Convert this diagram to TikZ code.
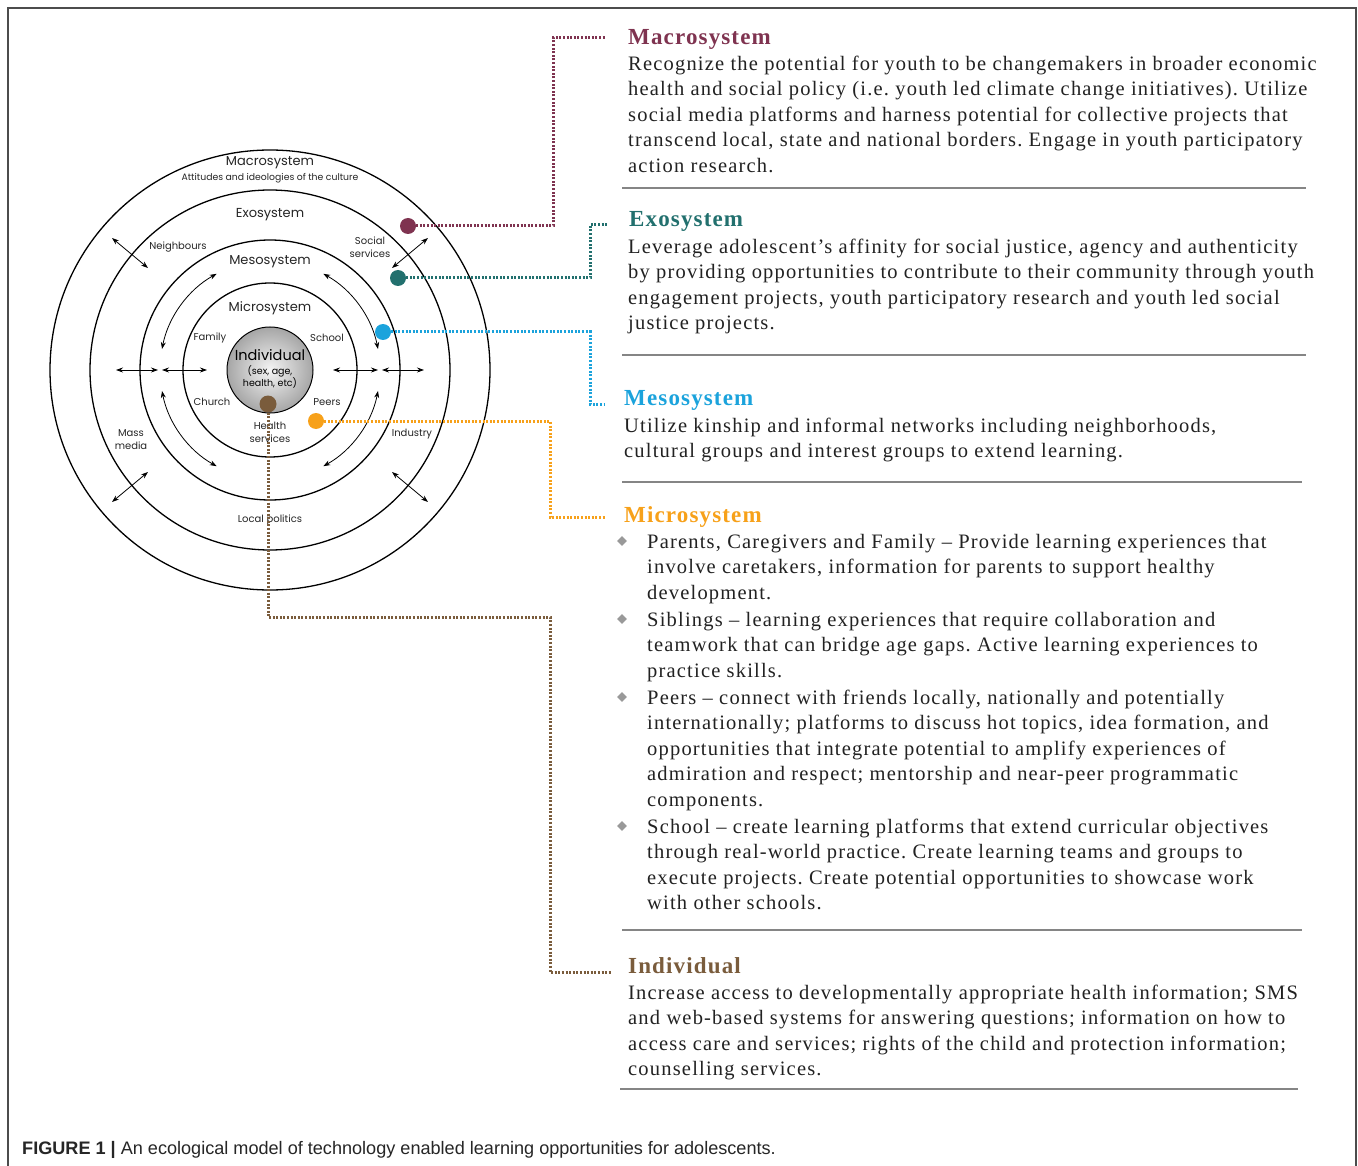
\documentclass[tikz,border=0pt]{standalone}
\usepackage{fontspec}
\setmainfont{Liberation Serif}
\newfontfamily\diagfont{Poppins}
\newfontfamily\capfont{Liberation Sans}
\newfontfamily\titlefont[LetterSpace=5]{Liberation Serif}
\newfontfamily\bodyfont[LetterSpace=5.8]{Liberation Serif}
\usetikzlibrary{arrows.meta,shapes.geometric}
\definecolor{cmacro}{HTML}{7F3350}
\definecolor{cexo}{HTML}{22706E}
\definecolor{cmeso}{HTML}{1BA3DC}
\definecolor{cmicro}{HTML}{F7A11A}
\definecolor{cind}{HTML}{7A5C3C}
\definecolor{rulegray}{HTML}{858585}
\definecolor{txt}{HTML}{222222}
\tikzset{
  ring/.style={draw=black, line width=1.3pt},
  dbl/.style={black, line width=0.8pt, {Stealth[length=7pt,width=5pt]}-{Stealth[length=7pt,width=5pt]}},
  lab/.style={font=\diagfont\fontsize{10}{11}\selectfont, inner sep=0pt, align=center, text=black!85},
  sysname/.style={font=\diagfont\fontsize{13}{14}\selectfont, inner sep=0pt, text=black!85},
  dot/.style={circle, inner sep=0pt, minimum size=16pt, fill=#1},
  conn/.style={line width=3pt, dash pattern=on 2pt off 1.6pt, draw=#1},
  ttl/.style={font=\titlefont\bfseries\fontsize{23}{26}\selectfont, text=#1, inner sep=0pt, anchor=base west},
  body/.style={font=\bodyfont\fontsize{20.5}{25.5}\selectfont\frenchspacing, text=txt, inner sep=0pt, anchor=north west, align=left},
  hrule/.style={draw=rulegray, line width=2.4pt},
  bullet/.style={diamond, fill=gray!80, inner sep=0pt, minimum size=10pt},
}
\newcommand{\st}{\rule{0pt}{15pt}}
\begin{document}
\begin{tikzpicture}[x=1pt,y=-1pt]
\useasboundingbox (0,0) rectangle (1358,1166);
\fill[white] (0,0) rectangle (1358,1166);
% frame
\draw[black!70, line width=1.3pt] (8,1166) -- (8,8) -- (1356,8) -- (1356,1166);

% ===== diagram =====
\begin{scope}[shift={(270,370)}, y=1pt]
  \draw[ring] (0,0) circle[radius=220];
  \draw[ring] (0,0) circle[radius=180];
  \draw[ring] (0,0) circle[radius=130];
  \draw[ring] (0,0) circle[radius=87];
  \shade[inner color=gray!8, outer color=gray!70, draw=black, line width=1pt] (0,0) circle[radius=43];
  % horizontal arrows
  \draw[dbl] (-154,0) -- (-112,0);
  \draw[dbl] (-108,0) -- (-63,0);
  \draw[dbl] (63,0) -- (108,0);
  \draw[dbl] (112,0) -- (154,0);
  % curved arrows
  \draw[dbl] (169:110) arc[start angle=169, end angle=119, radius=110];
  \draw[dbl] (61:110) arc[start angle=61, end angle=11, radius=110];
  \draw[dbl] (191:110) arc[start angle=191, end angle=241, radius=110];
  \draw[dbl] (299:110) arc[start angle=299, end angle=349, radius=110];
  % diagonal arrows
  \draw[dbl] (-158,132) -- (-122,102);
  \draw[dbl] (158,132) -- (122,102);
  \draw[dbl] (-158,-132) -- (-122,-102);
  \draw[dbl] (122,-102) -- (158,-132);
  % labels
  \node[sysname] (tmacro) at (0,207) {Macrosystem};
  \node[lab, font=\diagfont\fontsize{9.3}{10}\selectfont] (tatt) at (0,192) {Attitudes and ideologies of the culture};
  \node[sysname] (texo) at (0,155) {Exosystem};
  \node[sysname] (tmeso) at (0,108) {Mesosystem};
  \node[sysname] (tmicro) at (0,62) {Microsystem};
  \node[sysname, font=\diagfont\fontsize{14.5}{15}\selectfont, text=black] (tind) at (0,15) {Individual};
  \node[lab, font=\diagfont\fontsize{9.5}{11}\selectfont, text=black] (tsex) at (0,-7) {(sex, age,\\health, etc)};
  \node[lab] (tfam) at (-60,32) {Family};
  \node[lab] (tsch) at (57,32) {School};
  \node[lab] (tchu) at (-58,-32) {Church};
  \node[lab] (tpeer) at (57,-32) {Peers};
  \node[lab, font=\diagfont\fontsize{10}{13}\selectfont] (thealth) at (0,-62) {Health\\services};
  \node[lab] (tneigh) at (-92,123) {Neighbours};
  \node[lab, font=\diagfont\fontsize{10}{13}\selectfont] (tsoc) at (100,123) {Social\\services};
  \node[lab, font=\diagfont\fontsize{10}{13}\selectfont] (tmass) at (-139,-70) {Mass\\media};
  \node[lab] (tindus) at (142,-64) {Industry};
  \node[lab] (tlocal) at (0,-150) {Local politics};
\end{scope}

% ===== titles =====
\node[ttl=cmacro] (hmacro) at (628,45) {Macrosystem};
\node[ttl=cexo] (hexo) at (629,227) {Exosystem};
\node[ttl=cmeso] (hmeso) at (624,406) {Mesosystem};
\node[ttl=cmicro] (hmicro) at (624,522) {Microsystem};
\node[ttl=cind] (hind) at (628,973) {Individual};

% ===== connector end coordinates =====
\coordinate (mk) at (553,38);  \coordinate (me) at (605,38);
\coordinate (ek) at (590,225); \coordinate (ee) at (607,225);
\coordinate (sk) at (590,404); \coordinate (se) at (605,404);
\coordinate (ik) at (550,517); \coordinate (ie) at (605,517);
\coordinate (nk1) at (550,617); \coordinate (nk2) at (550,972); \coordinate (ne) at (612,972);

% dots
\node[dot=cmacro] (mdot) at (408,226) {};
\node[dot=cexo] (edot) at (398,278) {};
\node[dot=cmeso] (sdot) at (383,332) {};
\node[dot=cmicro] (idot) at (316,421) {};
\node[dot=cind, minimum size=17pt] (ndot) at (268,404) {};

% connectors
\draw[conn=cmacro] (mdot.east) -| (mk) -- (me);
\draw[conn=cexo] (edot.east) -| (ek) -- (ee);
\draw[conn=cmeso] (sdot.east) -| (sk) -- (se);
\draw[conn=cmicro] (idot.east) -| (ik) -- (ie);
\draw[conn=cind] (ndot.south) |- (nk1) -- (nk2) -- (ne);

% ===== body texts =====
\node[body] (bmacro) at (628,55) {\st Recognize the potential for youth to be changemakers in broader economic\\
health and social policy (i.e. youth led climate change initiatives). Utilize\\
social media platforms and harness potential for collective projects that\\
transcend local, state and national borders. Engage in youth participatory\\
action research.};
\draw[hrule] (622,188) -- (1306,188);

\node[body] (bexo) at (628,238) {\st Leverage adolescent’s affinity for social justice, agency and authenticity\\
by providing opportunities to contribute to their community through youth\\
engagement projects, youth participatory research and youth led social\\
justice projects.};
\draw[hrule] (622,355) -- (1306,355);

\node[body] (bmeso) at (624,417) {\st Utilize kinship and informal networks including neighborhoods,\\
cultural groups and interest groups to extend learning.};
\draw[hrule] (622,482) -- (1302,482);

\node[bullet] (b1) at (622,541) {};
\node[body] (bm1) at (647,533) {\st Parents, Caregivers and Family – Provide learning experiences that\\
involve caretakers, information for parents to support healthy\\
development.};
\node[bullet] (b2) at (622,619) {};
\node[body] (bm2) at (647,611) {\st Siblings – learning experiences that require collaboration and\\
teamwork that can bridge age gaps. Active learning experiences to\\
practice skills.};
\node[bullet] (b3) at (622,697) {};
\node[body] (bm3) at (647,689) {\st Peers – connect with friends locally, nationally and potentially\\
internationally; platforms to discuss hot topics, idea formation, and\\
opportunities that integrate potential to amplify experiences of\\
admiration and respect; mentorship and near-peer programmatic\\
components.};
\node[bullet] (b4) at (622,826) {};
\node[body] (bm4) at (647,818) {\st School – create learning platforms that extend curricular objectives\\
through real-world practice. Create learning teams and groups to\\
execute projects. Create potential opportunities to showcase work\\
with other schools.};
\draw[hrule] (622,930) -- (1302,930);

\node[body] (bind) at (628,984) {\st Increase access to developmentally appropriate health information; SMS\\
and web-based systems for answering questions; information on how to\\
access care and services; rights of the child and protection information;\\
counselling services.};
\draw[hrule] (620,1089) -- (1298,1089);

% caption
\node[anchor=base west, inner sep=0pt, font=\capfont\fontsize{18.1}{20}\selectfont, text=black!85] (cap) at (22,1154) {\textbf{FIGURE 1 |} An ecological model of technology enabled learning opportunities for adolescents.};
\end{tikzpicture}
\end{document}
